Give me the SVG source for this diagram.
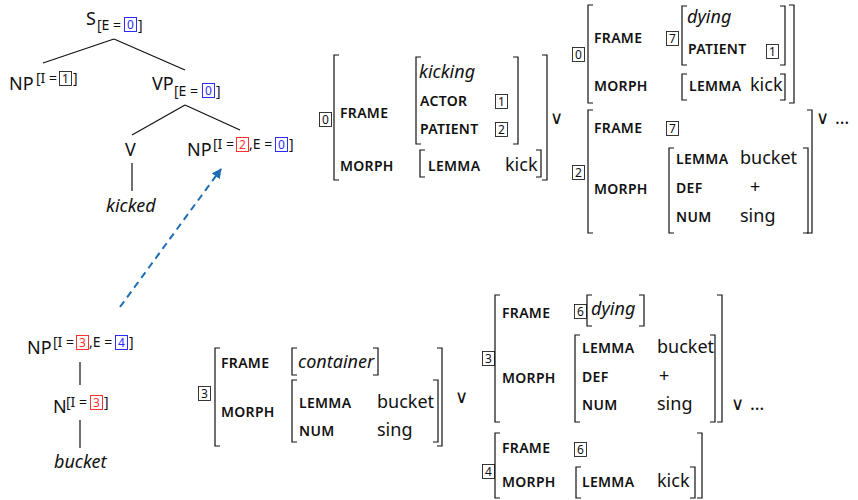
<svg xmlns="http://www.w3.org/2000/svg" width="858" height="500" viewBox="0 0 858 500">
<defs>
<style>
text { font-family: "Noto Sans", "DejaVu Sans", sans-serif; fill: #111; }
.w { font-size: 18px; }
.it { font-style: italic; }
.sc { font-size: 14px; font-weight: 600; letter-spacing: 0.3px; }
.sup { font-size: 14px; }
.num { font-size: 12px; text-anchor: middle; }
.or { font-family: "DejaVu Sans", sans-serif; font-size: 18px; }
.br { fill: none; stroke: #111; stroke-width: 1.2; }
.tag { fill: #fff; stroke: #222; stroke-width: 0.9; }
.tb { fill: #fff; stroke: #2b2bff; stroke-width: 1; }
.tr { fill: #fff; stroke: #ff3030; stroke-width: 1; }
.nb { fill: #2b2bff; }
.nr { fill: #ff3030; }
.edge { stroke: #111; stroke-width: 1.2; fill: none; }
.dash { stroke: #1f6db3; stroke-width: 2; stroke-dasharray: 7 5; fill: none; }
</style>
<marker id="ah" viewBox="0 0 10 10" refX="9" refY="5" markerWidth="5" markerHeight="5" orient="auto" markerUnits="strokeWidth">
<path d="M0,0 L10,5 L0,10 Z" fill="#1f6db3"/>
</marker>
</defs>

<!-- syntax tree for "kicked ... NP" -->
<g id="tree-S">
<text class="w" x="86" y="25">S</text>
<text class="sup" x="97" y="30">[E = </text>
<rect class="tb" x="124.5" y="17.5" width="12" height="14"/>
<text class="num nb" x="130.5" y="28.5">0</text>
<text class="sup" x="138" y="30">]</text>
</g>
<g id="tree-NP-subj">
<text class="w" x="9" y="90">NP</text>
<text class="sup" x="36" y="83">[I = </text>
<rect class="tag" x="59.5" y="71.5" width="12" height="14"/>
<text class="num" x="65.5" y="82.5">1</text>
<text class="sup" x="73" y="83">]</text>
</g>
<g id="tree-VP">
<text class="w" x="152" y="90">VP</text>
<text class="sup" x="174" y="96">[E = </text>
<rect class="tb" x="202.5" y="83.5" width="12" height="14"/>
<text class="num nb" x="208.5" y="94.5">0</text>
<text class="sup" x="216" y="96">]</text>
</g>
<g id="tree-V">
<text class="w" x="125" y="156">V</text>
</g>
<g id="tree-NP-obj">
<text class="w" x="187" y="156">NP</text>
<text class="sup" x="213" y="149">[I = </text>
<rect class="tr" x="236.5" y="137.5" width="12" height="14"/>
<text class="num nr" x="242.5" y="148.5">2</text>
<text class="sup" x="249" y="149">,E = </text>
<rect class="tb" x="275.5" y="137.5" width="12" height="14"/>
<text class="num nb" x="281.5" y="148.5">0</text>
<text class="sup" x="289" y="149">]</text>
</g>
<g id="tree-kicked">
<text class="w it" x="106" y="212">kicked</text>
</g>

<!-- syntax tree for "bucket" -->
<g id="tree-NP-bucket">
<text class="w" x="27" y="354">NP</text>
<text class="sup" x="53" y="347">[I = </text>
<rect class="tr" x="76.5" y="335.5" width="12" height="14"/>
<text class="num nr" x="82.5" y="346.5">3</text>
<text class="sup" x="89" y="347">,E = </text>
<rect class="tb" x="115.5" y="335.5" width="12" height="14"/>
<text class="num nb" x="121.5" y="346.5">4</text>
<text class="sup" x="129" y="347">]</text>
</g>
<g id="tree-N">
<text class="w" x="53" y="413">N</text>
<text class="sup" x="66" y="407">[I = </text>
<rect class="tr" x="90.5" y="395.5" width="12" height="14"/>
<text class="num nr" x="96.5" y="406.5">3</text>
<text class="sup" x="104" y="407">]</text>
</g>
<g id="tree-bucket">
<text class="w it" x="54" y="468">bucket</text>
</g>

<g id="connectors">
<line class="edge" x1="114" y1="39" x2="43" y2="63"/>
<line class="edge" x1="114" y1="39" x2="185" y2="70"/>
<line class="edge" x1="185" y1="105" x2="132" y2="135"/>
<line class="edge" x1="185" y1="105" x2="240" y2="130"/>
<line class="edge" x1="132" y1="163" x2="132" y2="191"/>
<line class="edge" x1="80" y1="362" x2="80" y2="385"/>
<line class="edge" x1="80" y1="420" x2="80" y2="448"/>
<line class="dash" x1="120" y1="307" x2="221" y2="169" marker-end="url(#ah)"/>
</g>

<!-- feature structure: kick (literal) -->
<g id="avm-kick-literal">
<rect class="tag" x="319.5" y="112.5" width="12" height="14"/>
<text class="num" x="325.5" y="123.5">0</text>
<path class="br" d="M339,55 H334 V180 H339"/>
<path class="br" d="M542,55 H547 V180 H542"/>
<text class="sc" x="340" y="118">FRAME</text>
<path class="br" d="M421,57 H416 V144 H421"/>
<text class="w it" x="419" y="78">kicking</text>
<text class="sc" x="420" y="106">ACTOR</text>
<rect class="tag" x="495.5" y="94.5" width="12" height="14"/>
<text class="num" x="501.5" y="105.5">1</text>
<text class="sc" x="420" y="134">PATIENT</text>
<rect class="tag" x="495.5" y="122.5" width="12" height="14"/>
<text class="num" x="501.5" y="133.5">2</text>
<path class="br" d="M513,57 H518 V144 H513"/>
<text class="sc" x="340" y="171">MORPH</text>
<path class="br" d="M425,150 H420 V177 H425"/>
<text class="sc" x="428" y="171">LEMMA</text>
<text class="w" x="505" y="171">kick</text>
<path class="br" d="M536,150 H541 V177 H536"/>
<text class="or" x="550" y="124">∨</text>
</g>

<!-- feature structure: kick (idiomatic) -->
<g id="avm-kick-idiom">
<rect class="tag" x="572.5" y="47.5" width="12" height="14"/>
<text class="num" x="578.5" y="58.5">0</text>
<path class="br" d="M593,5 H588 V103 H593"/>
<path class="br" d="M789,5 H794 V103 H789"/>
<text class="sc" x="594" y="43">FRAME</text>
<rect class="tag" x="666.5" y="31.5" width="12" height="14"/>
<text class="num" x="672.5" y="42.5">7</text>
<path class="br" d="M687,6 H682 V65 H687"/>
<text class="w it" x="687" y="23">dying</text>
<text class="sc" x="688" y="54">PATIENT</text>
<rect class="tag" x="766.5" y="44.5" width="12" height="14"/>
<text class="num" x="772.5" y="55.5">1</text>
<path class="br" d="M780,6 H785 V65 H780"/>
<text class="sc" x="594" y="91">MORPH</text>
<path class="br" d="M687,74 H682 V100 H687"/>
<text class="sc" x="689" y="91">LEMMA</text>
<text class="w" x="750" y="91">kick</text>
<path class="br" d="M780,74 H785 V100 H780"/>
</g>

<!-- feature structure: bucket (definite, idiomatic) -->
<g id="avm-bucket-def">
<rect class="tag" x="572.5" y="165.5" width="12" height="14"/>
<text class="num" x="578.5" y="176.5">2</text>
<path class="br" d="M593,110 H588 V233 H593"/>
<path class="br" d="M807,110 H812 V233 H807"/>
<text class="sc" x="594" y="133">FRAME</text>
<rect class="tag" x="666.5" y="121.5" width="12" height="14"/>
<text class="num" x="672.5" y="132.5">7</text>
<text class="sc" x="594" y="194">MORPH</text>
<path class="br" d="M674,148 H669 V233 H674"/>
<text class="sc" x="676" y="164">LEMMA</text>
<text class="w" x="740" y="164">bucket</text>
<text class="sc" x="676" y="193">DEF</text>
<text class="w" x="750" y="193">+</text>
<text class="sc" x="676" y="222">NUM</text>
<text class="w" x="740" y="222">sing</text>
<path class="br" d="M803,148 H808 V233 H803"/>
<text class="or" x="816" y="124">∨</text>
<text class="w" x="835" y="124">…</text>
</g>

<!-- feature structure: bucket (literal) -->
<g id="avm-bucket-literal">
<rect class="tag" x="198.5" y="386.5" width="12" height="14"/>
<text class="num" x="204.5" y="397.5">3</text>
<path class="br" d="M220,348 H215 V446 H220"/>
<path class="br" d="M437,348 H442 V446 H437"/>
<text class="sc" x="221" y="368">FRAME</text>
<path class="br" d="M297,348 H292 V375 H297"/>
<text class="w it" x="298" y="368">container</text>
<path class="br" d="M373,348 H378 V375 H373"/>
<text class="sc" x="221" y="417">MORPH</text>
<path class="br" d="M297,380 H292 V442 H297"/>
<text class="sc" x="299" y="408">LEMMA</text>
<text class="w" x="377" y="408">bucket</text>
<text class="sc" x="299" y="436">NUM</text>
<text class="w" x="377" y="436">sing</text>
<path class="br" d="M433,380 H438 V442 H433"/>
<text class="or" x="455" y="403">∨</text>
</g>

<!-- feature structure: bucket (idiomatic) -->
<g id="avm-bucket-idiom">
<rect class="tag" x="482.5" y="351.5" width="12" height="14"/>
<text class="num" x="488.5" y="362.5">3</text>
<path class="br" d="M500,295 H495 V422 H500"/>
<path class="br" d="M717,295 H722 V422 H717"/>
<text class="sc" x="502" y="318">FRAME</text>
<rect class="tag" x="574.5" y="304.5" width="12" height="14"/>
<text class="num" x="580.5" y="315.5">6</text>
<path class="br" d="M592,295 H587 V326 H592"/>
<text class="w it" x="591" y="315">dying</text>
<path class="br" d="M639,295 H644 V326 H639"/>
<text class="sc" x="502" y="383">MORPH</text>
<path class="br" d="M580,335 H575 V422 H580"/>
<text class="sc" x="582" y="353">LEMMA</text>
<text class="w" x="657" y="353">bucket</text>
<text class="sc" x="582" y="382">DEF</text>
<text class="w" x="659" y="382">+</text>
<text class="sc" x="582" y="410">NUM</text>
<text class="w" x="657" y="410">sing</text>
<path class="br" d="M710,335 H715 V422 H710"/>
<text class="or" x="731" y="410">∨</text>
<text class="w" x="750" y="410">…</text>
</g>

<!-- feature structure: kick (idiomatic, with bucket) -->
<g id="avm-kick-bucket">
<rect class="tag" x="482.5" y="464.5" width="12" height="14"/>
<text class="num" x="488.5" y="475.5">4</text>
<path class="br" d="M500,433 H495 V498 H500"/>
<path class="br" d="M697,433 H702 V498 H697"/>
<text class="sc" x="502" y="453">FRAME</text>
<rect class="tag" x="574.5" y="442.5" width="12" height="14"/>
<text class="num" x="580.5" y="453.5">6</text>
<text class="sc" x="502" y="487">MORPH</text>
<path class="br" d="M581,467 H576 V498 H581"/>
<text class="sc" x="582" y="487">LEMMA</text>
<text class="w" x="657" y="487">kick</text>
<path class="br" d="M690,467 H695 V498 H690"/>
</g>
</svg>
